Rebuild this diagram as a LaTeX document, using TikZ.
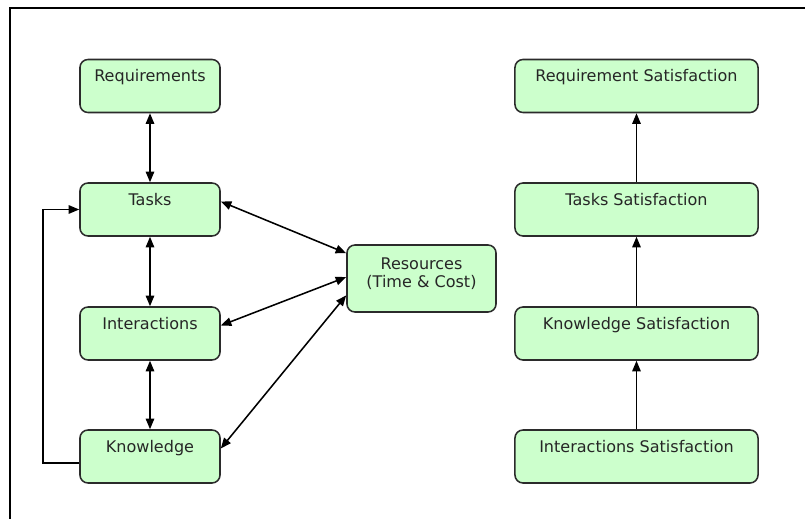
\documentclass[tikz,border=0pt]{standalone}
\usepackage{fontspec}
\setmainfont{DejaVu Sans}
\usetikzlibrary{arrows.meta}

\definecolor{boxfill}{HTML}{CCFFCC}
\definecolor{boxline}{HTML}{2B2B2B}

\begin{document}
\begin{tikzpicture}[x=0.025cm, y=-0.025cm,
  box/.style={draw=boxline, fill=boxfill, line width=1.1pt, rounded corners=0.2cm,
              inner sep=0pt, font=\fontsize{11.4}{12.3}\selectfont, text=black!85,
              text height=15.9pt, text depth=21.8pt, minimum width=3.5cm},
  widebox/.style={box, minimum width=6.075cm},
  link/.style={line width=1.1pt, {Triangle[length=7.5pt,width=6pt]}-{Triangle[length=7.5pt,width=6pt]}},
  uplink/.style={line width=1.1pt, -{Triangle[length=7.5pt,width=6pt]}}]

\useasboundingbox (0,0) rectangle (805,519);
\fill[white] (0,0) rectangle (805,519);

% === FRAME ===
\draw[line width=1.1pt] (10,519) -- (10,8) -- (805,8);

% ============================================================
% LEFT: model elements
% ============================================================
\node[box] (req)   at (150,86)    {Requirements};
\node[box] (tasks) at (150,209.5) {Tasks};
\node[box] (inter) at (150,333.5) {Interactions};
\node[box] (know)  at (150,456.5) {Knowledge};

\node[box, text height=, text depth=, minimum width=3.725cm, minimum height=1.675cm,
      align=center] (res) at (421.5,278.5) {Resources\\(Time \& Cost)\rule[-8.3pt]{0pt}{1pt}};

\draw[link] (req) -- (tasks);
\draw[link] (tasks) -- (inter);
\draw[link] (inter) -- (know);

% links to resources
\draw[link] (tasks.mid east) -- ([yshift=18pt]res.west);
\draw[link] (inter.mid east) -- ([yshift=1pt]res.west);
\draw[link] (know.mid east) -- ([yshift=-12pt]res.west);

% feedback loop
\draw[uplink] ([yshift=-4.5pt]know.west) -- ++(-36,0) |- (tasks.west);

% ============================================================
% RIGHT: satisfaction chain
% ============================================================
\node[widebox] (reqsat)   at (636.5,86)    {Requirement Satisfaction};
\node[widebox] (tasksat)  at (636.5,209.5) {Tasks Satisfaction};
\node[widebox] (knowsat)  at (636.5,333.5) {Knowledge Satisfaction};
\node[widebox] (intersat) at (636.5,456.5) {Interactions Satisfaction};

\draw[uplink] (intersat) -- (knowsat);
\draw[uplink] (knowsat) -- (tasksat);
\draw[uplink] (tasksat) -- (reqsat);

\end{tikzpicture}
\end{document}
